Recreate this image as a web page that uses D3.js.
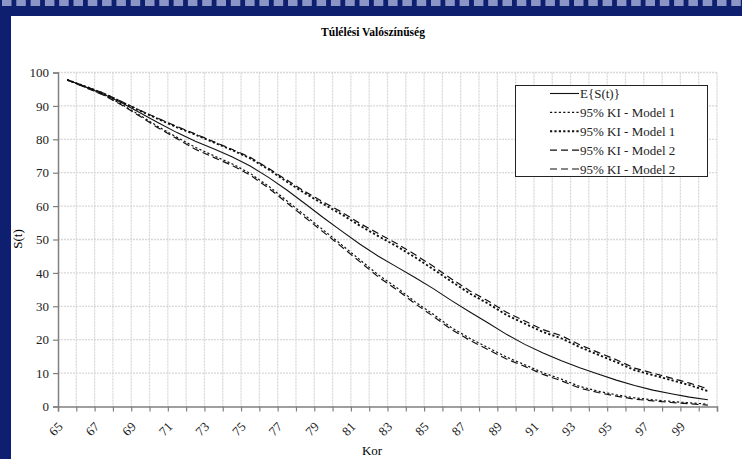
<!DOCTYPE html>
<html><head><meta charset="utf-8">
<script src="https://cdnjs.cloudflare.com/ajax/libs/d3/7.8.5/d3.min.js"></script>
<style>body{margin:0;background:#fff}svg{display:block}</style>
</head><body>
<svg id="chart" width="742" height="459"></svg>
<script>
const ages = d3.range(65, 101);
const xTickLabels = d3.range(65, 100, 2);
const yTicks = d3.range(0, 101, 10);
const meanS = [97.8,95.7,93.5,90.9,87.9,84.9,82.0,79.4,77.2,74.8,72.0,68.6,64.8,60.7,56.5,52.5,48.6,45.0,41.8,38.6,35.3,31.7,28.3,25.0,21.6,18.6,16.0,13.7,11.6,9.7,7.9,6.3,4.9,3.8,2.8,2.0];
const m1Low = [97.8,95.6,93.3,90.4,87.1,83.7,80.6,77.6,75.1,72.7,69.8,66.0,61.6,57.2,52.8,48.4,43.9,39.4,35.6,31.4,27.6,23.6,20.4,17.6,14.8,12.5,10.1,8.2,6.0,4.6,3.5,2.6,2.0,1.5,1.1,0.7];
const m1Up  = [97.8,95.8,93.7,91.1,88.5,86.0,83.6,81.4,79.1,76.8,74.3,71.0,67.3,63.8,60.6,57.5,54.1,51.0,48.0,44.7,41.1,37.4,33.8,30.8,27.4,24.8,22.3,20.4,17.8,15.5,13.3,10.9,9.4,7.9,6.4,4.6];
const m2Low = [97.8,95.5,93.2,90.2,86.8,83.3,80.2,77.0,74.6,72.2,69.3,65.4,61.0,56.6,52.2,47.8,43.3,38.8,35.0,30.8,27.0,23.0,19.8,17.0,14.2,12.0,9.6,7.7,5.5,4.2,3.1,2.2,1.7,1.2,0.8,0.4];
const m2Up  = [97.8,95.8,93.8,91.2,88.6,86.2,83.8,81.6,79.3,77.0,74.6,71.3,67.8,64.3,61.2,58.2,54.8,51.8,48.8,45.5,42.0,38.2,34.6,31.6,28.2,25.6,23.0,21.2,18.5,16.2,14.0,11.5,10.0,8.5,7.0,5.3];
const seriesNames = ["E{S(t)}","95% KI - Model 1","95% KI - Model 1","95% KI - Model 2","95% KI - Model 2"];

const series = [
  {name: seriesNames[0], values: meanS, dash: null, w: 1.1},
  {name: seriesNames[1], values: m1Low, dash: "2.2,2.2", w: 1.2},
  {name: seriesNames[2], values: m1Up, dash: "2.2,2.2", w: 1.9},
  {name: seriesNames[3], values: m2Low, dash: "7,4", w: 1.2},
  {name: seriesNames[4], values: m2Up, dash: "7,4", w: 1.2}
];

const svg = d3.select("#chart");
const W = 742, H = 459;
const serif = "'Liberation Serif','Times New Roman',serif";

// frame
svg.append("rect").attr("width", W).attr("height", H).attr("fill", "#0e1f6f");
const sq = svg.append("g");
for (let x = 2; x < W; x += 14.3) {
  sq.append("rect").attr("x", x).attr("y", 0).attr("width", 9.5).attr("height", 6).attr("fill", "#8c96c6");
}
svg.append("rect").attr("x", 11).attr("y", 16).attr("width", W - 11).attr("height", H - 16).attr("fill", "#fff");

const L = 58, R = 717, T = 72.5, B = 406.5;
const x = d3.scaleBand().domain(ages).range([L, R]).padding(0);
const xb = d3.scaleLinear().domain([ages[0] - 0.5, ages[ages.length - 1] + 0.5]).range([L, R]);
const y = d3.scaleLinear().domain([0, 100]).range([B, T]);
const cx = a => x(a) + x.bandwidth() / 2;

// gridlines
const grid = svg.append("g").attr("stroke", "#d8d8d8").attr("stroke-width", 1.3).attr("stroke-dasharray", "2,1");
const bounds = d3.range(ages[0] - 0.5, ages[ages.length - 1] + 1, 1);
grid.selectAll("line.v").data(bounds.slice(1)).join("line")
  .attr("x1", d => xb(d)).attr("x2", d => xb(d)).attr("y1", T).attr("y2", B);
grid.selectAll("line.h").data(yTicks.slice(1)).join("line")
  .attr("x1", L).attr("x2", R).attr("y1", d => y(d)).attr("y2", d => y(d));

// y axis
const yAxis = svg.append("g").attr("transform", `translate(${L},0)`)
  .call(d3.axisLeft(y).tickValues(yTicks).tickSize(5).tickPadding(4));
yAxis.select(".domain").attr("stroke", "#808080").attr("stroke-width", 1.5);
yAxis.selectAll(".tick line").attr("stroke", "#808080").attr("stroke-width", 1.2);
yAxis.selectAll("text").attr("font-family", serif).attr("font-size", 13).attr("fill", "#222");

// x axis
const xAxis = svg.append("g").attr("transform", `translate(0,${B})`)
  .call(d3.axisBottom(xb).tickValues(bounds).tickSize(5).tickFormat(""));
xAxis.select(".domain").attr("stroke", "#808080").attr("stroke-width", 1.5);
xAxis.selectAll(".tick line").attr("stroke", "#808080").attr("stroke-width", 1.2);

svg.append("g").selectAll("text").data(xTickLabels).join("text")
  .attr("transform", d => `translate(${cx(d) - 3.6},${B + 21}) rotate(-45)`)
  .attr("text-anchor", "end")
  .attr("font-family", serif).attr("font-size", 13).attr("fill", "#222")
  .text(d => d);

// lines
const line = d3.line().x((d, i) => cx(ages[i])).y(d => y(d));
svg.append("g").selectAll("path").data(series).join("path")
  .attr("d", d => line(d.values))
  .attr("fill", "none").attr("stroke", "#111")
  .attr("stroke-width", d => d.w)
  .attr("stroke-dasharray", d => d.dash);

// title and axis labels
svg.append("text").attr("x", 373).attr("y", 36).attr("text-anchor", "middle")
  .attr("font-family", serif).attr("font-size", 11.5).attr("font-weight", "bold").text("Túlélési Valószínűség");
svg.append("text").attr("x", 372).attr("y", 455).attr("text-anchor", "middle")
  .attr("font-family", serif).attr("font-size", 13).text("Kor");
svg.append("text").attr("transform", "translate(22,239) rotate(-90)").attr("text-anchor", "middle")
  .attr("font-family", serif).attr("font-size", 13).text("S(t)");

// legend
const lg = svg.append("g");
lg.append("rect").attr("x", 515.5).attr("y", 85.5).attr("width", 192).attr("height", 91)
  .attr("fill", "#fff").attr("stroke", "#222").attr("stroke-width", 1);
const rowY = d3.scalePoint().domain(d3.range(series.length)).range([93.5, 169]);
series.forEach((s, i) => {
  const yy = rowY(i);
  lg.append("line").attr("x1", 550).attr("x2", 579).attr("y1", yy).attr("y2", yy)
    .attr("stroke", "#111").attr("stroke-width", s.w).attr("stroke-dasharray", s.dash);
  lg.append("text").attr("x", 580).attr("y", yy + 4.5)
    .attr("font-family", serif).attr("font-size", 13).attr("fill", "#222").text(s.name);
});
</script>
</body></html>
